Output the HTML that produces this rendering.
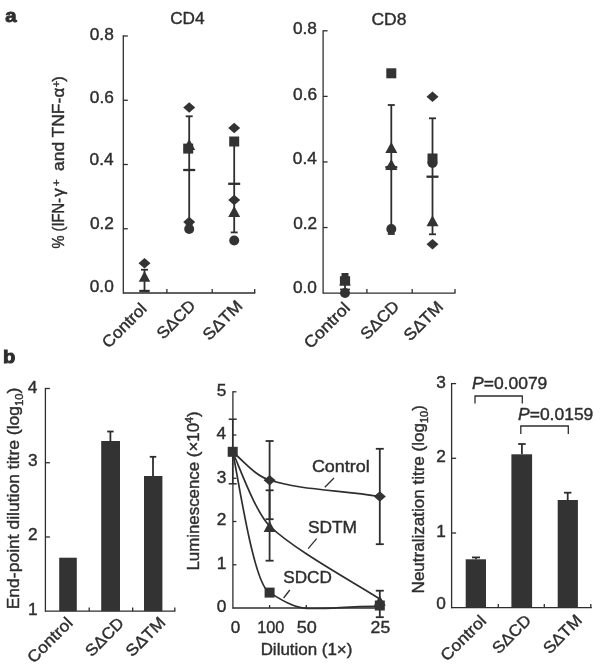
<!DOCTYPE html>
<html><head><meta charset="utf-8"><title>Figure</title>
<style>
html,body{margin:0;padding:0;background:#fff;}
svg{display:block;}
text{font-family:"Liberation Sans",sans-serif;fill:#2e2e2e;stroke:#2e2e2e;stroke-width:0.4px;}
.pl{stroke-width:0.9px;}
</style></head><body>
<svg width="600" height="665" viewBox="0 0 600 665">
<rect width="600" height="665" fill="#ffffff"/>
<text transform="translate(5.19 22.30) scale(1.1321 1)" font-size="18" font-weight="bold" class="pl">a</text>
<text transform="translate(3.09 363.10) scale(1.1221 1)" font-size="18" font-weight="bold" class="pl">b</text>
<line x1="123.30" y1="35.35" x2="123.30" y2="293.65" stroke="#2e2e2e" stroke-width="1.3" stroke-linecap="butt"/>
<line x1="123.30" y1="293.00" x2="255.30" y2="293.00" stroke="#2e2e2e" stroke-width="1.3" stroke-linecap="butt"/>
<line x1="123.30" y1="228.75" x2="127.80" y2="228.75" stroke="#2e2e2e" stroke-width="1.3" stroke-linecap="butt"/>
<line x1="123.30" y1="164.50" x2="127.80" y2="164.50" stroke="#2e2e2e" stroke-width="1.3" stroke-linecap="butt"/>
<line x1="123.30" y1="100.25" x2="127.80" y2="100.25" stroke="#2e2e2e" stroke-width="1.3" stroke-linecap="butt"/>
<line x1="123.30" y1="36.00" x2="127.80" y2="36.00" stroke="#2e2e2e" stroke-width="1.3" stroke-linecap="butt"/>
<text transform="translate(89.77 291.60) scale(1.0600 1)" font-size="16.3">0.0</text>
<text transform="translate(89.95 228.50) scale(1.0600 1)" font-size="16.3">0.2</text>
<text transform="translate(89.60 165.30) scale(1.0600 1)" font-size="16.3">0.4</text>
<text transform="translate(89.86 102.70) scale(1.0600 1)" font-size="16.3">0.6</text>
<text transform="translate(89.77 40.00) scale(1.0600 1)" font-size="16.3">0.8</text>
<line x1="166.90" y1="293.00" x2="166.90" y2="289.00" stroke="#2e2e2e" stroke-width="1.3" stroke-linecap="butt"/>
<line x1="212.20" y1="293.00" x2="212.20" y2="289.00" stroke="#2e2e2e" stroke-width="1.3" stroke-linecap="butt"/>
<line x1="254.70" y1="293.00" x2="254.70" y2="289.00" stroke="#2e2e2e" stroke-width="1.3" stroke-linecap="butt"/>
<text transform="translate(170.14 24.30) scale(1.0544 1)" font-size="16.3">CD4</text>
<text transform="translate(63.6 248.2) rotate(-90) scale(1.04 1)" font-size="16.3"><tspan x="-0.38" textLength="48.65" lengthAdjust="spacingAndGlyphs">% (IFN-</tspan><tspan x="49.42">γ</tspan><tspan x="59.52" dy="-3.6" font-size="11.5">+</tspan><tspan x="74.23" dy="3.6" textLength="70.48" lengthAdjust="spacingAndGlyphs">and TNF-</tspan><tspan x="144.90">α</tspan><tspan x="154.62" dy="-3.6" font-size="11.5">+</tspan><tspan x="160.00" dy="3.6">)</tspan></text>
<line x1="144.50" y1="269.70" x2="144.50" y2="291.00" stroke="#2e2e2e" stroke-width="1.8" stroke-linecap="butt"/>
<line x1="141.00" y1="269.70" x2="148.00" y2="269.70" stroke="#2e2e2e" stroke-width="1.8" stroke-linecap="butt"/>
<line x1="141.00" y1="291.00" x2="148.00" y2="291.00" stroke="#2e2e2e" stroke-width="1.8" stroke-linecap="butt"/>
<line x1="139.30" y1="291.00" x2="149.70" y2="291.00" stroke="#2e2e2e" stroke-width="2.4" stroke-linecap="butt"/>
<polygon points="138.50,263.30 144.50,258.05 150.50,263.30 144.50,268.55" fill="#333333"/>
<polygon points="138.75,281.70 144.50,271.10 150.25,281.70" fill="#333333"/>
<line x1="189.20" y1="116.30" x2="189.20" y2="224.00" stroke="#2e2e2e" stroke-width="1.8" stroke-linecap="butt"/>
<line x1="185.70" y1="116.30" x2="192.70" y2="116.30" stroke="#2e2e2e" stroke-width="1.8" stroke-linecap="butt"/>
<line x1="185.70" y1="224.00" x2="192.70" y2="224.00" stroke="#2e2e2e" stroke-width="1.8" stroke-linecap="butt"/>
<line x1="183.20" y1="170.00" x2="195.20" y2="170.00" stroke="#2e2e2e" stroke-width="2.3" stroke-linecap="butt"/>
<polygon points="183.20,107.60 189.20,102.35 195.20,107.60 189.20,112.85" fill="#333333"/>
<polygon points="183.20,150.00 189.20,139.00 195.20,150.00" fill="#333333"/>
<rect x="183.20" y="143.60" width="10.00" height="10.00" fill="#333333"/>
<polygon points="183.20,222.00 189.20,216.75 195.20,222.00 189.20,227.25" fill="#333333"/>
<circle cx="189.20" cy="229.00" r="5" fill="#333333"/>
<line x1="234.20" y1="138.00" x2="234.20" y2="232.40" stroke="#2e2e2e" stroke-width="1.8" stroke-linecap="butt"/>
<line x1="230.70" y1="138.00" x2="237.70" y2="138.00" stroke="#2e2e2e" stroke-width="1.8" stroke-linecap="butt"/>
<line x1="230.70" y1="232.40" x2="237.70" y2="232.40" stroke="#2e2e2e" stroke-width="1.8" stroke-linecap="butt"/>
<line x1="228.20" y1="183.80" x2="240.20" y2="183.80" stroke="#2e2e2e" stroke-width="2.3" stroke-linecap="butt"/>
<polygon points="228.20,128.00 234.20,122.75 240.20,128.00 234.20,133.25" fill="#333333"/>
<rect x="229.20" y="136.50" width="10.00" height="10.00" fill="#333333"/>
<polygon points="228.20,200.00 234.20,194.75 240.20,200.00 234.20,205.25" fill="#333333"/>
<polygon points="228.20,216.90 234.20,205.90 240.20,216.90" fill="#333333"/>
<circle cx="234.20" cy="240.50" r="5" fill="#333333"/>
<text transform="translate(147.80 309.70) rotate(-45) scale(1.0550 1)" font-size="16.3" text-anchor="end">Control</text>
<text transform="translate(196.50 306.60) rotate(-45) scale(1.0400 1)" font-size="16.3" text-anchor="end">SΔCD</text>
<text transform="translate(243.50 307.00) rotate(-45) scale(1.0700 1)" font-size="16.3" text-anchor="end">SΔTM</text>
<line x1="323.10" y1="30.15" x2="323.10" y2="293.75" stroke="#2e2e2e" stroke-width="1.3" stroke-linecap="butt"/>
<line x1="323.10" y1="293.10" x2="455.50" y2="293.10" stroke="#2e2e2e" stroke-width="1.3" stroke-linecap="butt"/>
<line x1="323.10" y1="227.53" x2="327.60" y2="227.53" stroke="#2e2e2e" stroke-width="1.3" stroke-linecap="butt"/>
<line x1="323.10" y1="161.95" x2="327.60" y2="161.95" stroke="#2e2e2e" stroke-width="1.3" stroke-linecap="butt"/>
<line x1="323.10" y1="96.38" x2="327.60" y2="96.38" stroke="#2e2e2e" stroke-width="1.3" stroke-linecap="butt"/>
<line x1="323.10" y1="30.80" x2="327.60" y2="30.80" stroke="#2e2e2e" stroke-width="1.3" stroke-linecap="butt"/>
<text transform="translate(292.97 293.10) scale(1.0600 1)" font-size="16.3">0.0</text>
<text transform="translate(293.15 229.30) scale(1.0600 1)" font-size="16.3">0.2</text>
<text transform="translate(292.80 164.30) scale(1.0600 1)" font-size="16.3">0.4</text>
<text transform="translate(293.06 99.50) scale(1.0600 1)" font-size="16.3">0.6</text>
<text transform="translate(292.97 34.10) scale(1.0600 1)" font-size="16.3">0.8</text>
<line x1="366.90" y1="293.10" x2="366.90" y2="289.10" stroke="#2e2e2e" stroke-width="1.3" stroke-linecap="butt"/>
<line x1="412.20" y1="293.10" x2="412.20" y2="289.10" stroke="#2e2e2e" stroke-width="1.3" stroke-linecap="butt"/>
<line x1="455.00" y1="293.10" x2="455.00" y2="289.10" stroke="#2e2e2e" stroke-width="1.3" stroke-linecap="butt"/>
<text transform="translate(371.43 24.50) scale(1.0728 1)" font-size="16.3">CD8</text>
<line x1="345.00" y1="279.00" x2="345.00" y2="291.00" stroke="#2e2e2e" stroke-width="1.8" stroke-linecap="butt"/>
<line x1="341.50" y1="279.00" x2="348.50" y2="279.00" stroke="#2e2e2e" stroke-width="1.8" stroke-linecap="butt"/>
<line x1="341.50" y1="291.00" x2="348.50" y2="291.00" stroke="#2e2e2e" stroke-width="1.8" stroke-linecap="butt"/>
<rect x="341.50" y="273.00" width="7.00" height="4.00" fill="#333333"/>
<rect x="339.90" y="276.20" width="10.20" height="9.30" fill="#333333"/>
<polygon points="339.10,285.60 345.00,277.00 350.90,285.60" fill="#333333"/>
<line x1="340.00" y1="289.40" x2="350.00" y2="289.40" stroke="#2e2e2e" stroke-width="1.6" stroke-linecap="butt"/>
<circle cx="345.00" cy="293.00" r="5" fill="#333333"/>
<line x1="391.30" y1="105.00" x2="391.30" y2="234.00" stroke="#2e2e2e" stroke-width="1.8" stroke-linecap="butt"/>
<line x1="387.80" y1="105.00" x2="394.80" y2="105.00" stroke="#2e2e2e" stroke-width="1.8" stroke-linecap="butt"/>
<line x1="387.80" y1="234.00" x2="394.80" y2="234.00" stroke="#2e2e2e" stroke-width="1.8" stroke-linecap="butt"/>
<line x1="385.30" y1="167.30" x2="397.30" y2="167.30" stroke="#2e2e2e" stroke-width="2.3" stroke-linecap="butt"/>
<rect x="386.30" y="68.30" width="10.00" height="10.00" fill="#333333"/>
<polygon points="385.30,153.00 391.30,142.00 397.30,153.00" fill="#333333"/>
<polygon points="385.30,170.00 391.30,159.00 397.30,170.00" fill="#333333"/>
<polygon points="385.80,167.00 391.30,163.00 396.80,167.00 391.30,171.00" fill="#333333"/>
<circle cx="391.30" cy="229.00" r="5" fill="#333333"/>
<line x1="432.50" y1="118.30" x2="432.50" y2="234.30" stroke="#2e2e2e" stroke-width="1.8" stroke-linecap="butt"/>
<line x1="429.00" y1="118.30" x2="436.00" y2="118.30" stroke="#2e2e2e" stroke-width="1.8" stroke-linecap="butt"/>
<line x1="429.00" y1="234.30" x2="436.00" y2="234.30" stroke="#2e2e2e" stroke-width="1.8" stroke-linecap="butt"/>
<line x1="426.50" y1="176.70" x2="438.50" y2="176.70" stroke="#2e2e2e" stroke-width="2.3" stroke-linecap="butt"/>
<polygon points="426.50,96.70 432.50,91.45 438.50,96.70 432.50,101.95" fill="#333333"/>
<rect x="427.50" y="153.50" width="10.00" height="10.00" fill="#333333"/>
<circle cx="432.50" cy="163.00" r="5" fill="#333333"/>
<polygon points="426.50,226.20 432.50,215.20 438.50,226.20" fill="#333333"/>
<polygon points="426.50,244.30 432.50,239.05 438.50,244.30 432.50,249.55" fill="#333333"/>
<text transform="translate(351.00 309.00) rotate(-45) scale(1.0900 1)" font-size="16.3" text-anchor="end">Control</text>
<text transform="translate(400.20 307.30) rotate(-45) scale(1.0400 1)" font-size="16.3" text-anchor="end">SΔCD</text>
<text transform="translate(444.20 307.80) rotate(-45) scale(1.0600 1)" font-size="16.3" text-anchor="end">SΔTM</text>
<line x1="45.40" y1="387.85" x2="45.40" y2="611.85" stroke="#2e2e2e" stroke-width="1.3" stroke-linecap="butt"/>
<line x1="45.40" y1="611.20" x2="175.30" y2="611.20" stroke="#2e2e2e" stroke-width="1.3" stroke-linecap="butt"/>
<line x1="45.40" y1="536.97" x2="49.90" y2="536.97" stroke="#2e2e2e" stroke-width="1.3" stroke-linecap="butt"/>
<line x1="45.40" y1="462.73" x2="49.90" y2="462.73" stroke="#2e2e2e" stroke-width="1.3" stroke-linecap="butt"/>
<line x1="45.40" y1="388.50" x2="49.90" y2="388.50" stroke="#2e2e2e" stroke-width="1.3" stroke-linecap="butt"/>
<text transform="translate(28.07 615.10) scale(1.0600 1)" font-size="16.3">1</text>
<text transform="translate(28.07 539.90) scale(1.0600 1)" font-size="16.3">2</text>
<text transform="translate(27.99 466.20) scale(1.0600 1)" font-size="16.3">3</text>
<text transform="translate(27.73 392.50) scale(1.0600 1)" font-size="16.3">4</text>
<line x1="89.20" y1="611.20" x2="89.20" y2="607.40" stroke="#2e2e2e" stroke-width="1.3" stroke-linecap="butt"/>
<line x1="132.70" y1="611.20" x2="132.70" y2="607.40" stroke="#2e2e2e" stroke-width="1.3" stroke-linecap="butt"/>
<line x1="174.80" y1="611.20" x2="174.80" y2="607.40" stroke="#2e2e2e" stroke-width="1.3" stroke-linecap="butt"/>
<rect x="59.20" y="557.70" width="17.60" height="53.50" fill="#333333"/>
<rect x="101.20" y="441.00" width="18.80" height="170.20" fill="#333333"/>
<rect x="144.00" y="476.00" width="18.40" height="135.20" fill="#333333"/>
<line x1="110.40" y1="441.00" x2="110.40" y2="431.50" stroke="#2e2e2e" stroke-width="1.8" stroke-linecap="butt"/>
<line x1="107.15" y1="431.50" x2="113.65" y2="431.50" stroke="#2e2e2e" stroke-width="1.8" stroke-linecap="butt"/>
<line x1="153.00" y1="476.00" x2="153.00" y2="456.80" stroke="#2e2e2e" stroke-width="1.8" stroke-linecap="butt"/>
<line x1="149.75" y1="456.80" x2="156.25" y2="456.80" stroke="#2e2e2e" stroke-width="1.8" stroke-linecap="butt"/>
<text transform="translate(19.0 609.3) rotate(-90) scale(1.0747 1)" font-size="16.3">End-point dilution titre (log<tspan font-size="10.5" dy="3.5">10</tspan><tspan dy="-3.5">)</tspan></text>
<text transform="translate(73.70 624.00) rotate(-45) scale(1.0750 1)" font-size="16.3" text-anchor="end">Control</text>
<text transform="translate(125.00 624.20) rotate(-45) scale(1.0400 1)" font-size="16.3" text-anchor="end">SΔCD</text>
<text transform="translate(166.30 623.50) rotate(-45) scale(1.0600 1)" font-size="16.3" text-anchor="end">SΔTM</text>
<line x1="232.90" y1="391.15" x2="232.90" y2="608.65" stroke="#2e2e2e" stroke-width="1.3" stroke-linecap="butt"/>
<line x1="232.90" y1="608.00" x2="384.00" y2="608.00" stroke="#2e2e2e" stroke-width="1.3" stroke-linecap="butt"/>
<line x1="232.90" y1="564.76" x2="236.40" y2="564.76" stroke="#2e2e2e" stroke-width="1.3" stroke-linecap="butt"/>
<line x1="232.90" y1="521.52" x2="236.40" y2="521.52" stroke="#2e2e2e" stroke-width="1.3" stroke-linecap="butt"/>
<line x1="232.90" y1="478.28" x2="236.40" y2="478.28" stroke="#2e2e2e" stroke-width="1.3" stroke-linecap="butt"/>
<line x1="232.90" y1="435.04" x2="236.40" y2="435.04" stroke="#2e2e2e" stroke-width="1.3" stroke-linecap="butt"/>
<line x1="232.90" y1="391.80" x2="236.40" y2="391.80" stroke="#2e2e2e" stroke-width="1.3" stroke-linecap="butt"/>
<text transform="translate(216.70 611.80) scale(1.0600 1)" font-size="16.3">0</text>
<text transform="translate(216.87 569.40) scale(1.0600 1)" font-size="16.3">1</text>
<text transform="translate(216.87 525.40) scale(1.0600 1)" font-size="16.3">2</text>
<text transform="translate(216.79 482.50) scale(1.0600 1)" font-size="16.3">3</text>
<text transform="translate(216.53 438.50) scale(1.0600 1)" font-size="16.3">4</text>
<text transform="translate(216.70 395.50) scale(1.0600 1)" font-size="16.3">5</text>
<line x1="269.60" y1="608.00" x2="269.60" y2="605.00" stroke="#2e2e2e" stroke-width="1.3" stroke-linecap="butt"/>
<line x1="306.30" y1="608.00" x2="306.30" y2="605.00" stroke="#2e2e2e" stroke-width="1.3" stroke-linecap="butt"/>
<path d="M232.7,452 C244.7,462 255.60000000000002,476 269.6,480 C299.6,490 339.8,490 379.8,496.5" fill="none" stroke="#2e2e2e" stroke-width="1.7"/>
<path d="M232.7,452 C240.7,470 255.60000000000002,512 269.6,526 C294.6,550 349.8,580 379.8,599" fill="none" stroke="#2e2e2e" stroke-width="1.7"/>
<path d="M232.7,452 C238.7,480 253.60000000000002,585 269.6,592.6 C281.6,600 294.3,608 306.3,608.3 C326.3,609.5 349.8,606 379.8,606.5" fill="none" stroke="#2e2e2e" stroke-width="1.7"/>
<line x1="232.70" y1="419.20" x2="232.70" y2="483.80" stroke="#2e2e2e" stroke-width="1.5" stroke-linecap="butt"/>
<line x1="228.70" y1="419.20" x2="236.70" y2="419.20" stroke="#2e2e2e" stroke-width="1.5" stroke-linecap="butt"/>
<line x1="228.70" y1="483.80" x2="236.70" y2="483.80" stroke="#2e2e2e" stroke-width="1.5" stroke-linecap="butt"/>
<line x1="269.60" y1="441.00" x2="269.60" y2="519.20" stroke="#2e2e2e" stroke-width="1.8" stroke-linecap="butt"/>
<line x1="265.60" y1="441.00" x2="273.60" y2="441.00" stroke="#2e2e2e" stroke-width="1.8" stroke-linecap="butt"/>
<line x1="265.60" y1="519.20" x2="273.60" y2="519.20" stroke="#2e2e2e" stroke-width="1.8" stroke-linecap="butt"/>
<line x1="269.60" y1="490.30" x2="269.60" y2="560.70" stroke="#2e2e2e" stroke-width="1.8" stroke-linecap="butt"/>
<line x1="265.60" y1="490.30" x2="273.60" y2="490.30" stroke="#2e2e2e" stroke-width="1.8" stroke-linecap="butt"/>
<line x1="265.60" y1="560.70" x2="273.60" y2="560.70" stroke="#2e2e2e" stroke-width="1.8" stroke-linecap="butt"/>
<line x1="379.80" y1="448.80" x2="379.80" y2="544.20" stroke="#2e2e2e" stroke-width="1.8" stroke-linecap="butt"/>
<line x1="375.80" y1="448.80" x2="383.80" y2="448.80" stroke="#2e2e2e" stroke-width="1.8" stroke-linecap="butt"/>
<line x1="375.80" y1="544.20" x2="383.80" y2="544.20" stroke="#2e2e2e" stroke-width="1.8" stroke-linecap="butt"/>
<line x1="379.80" y1="590.70" x2="379.80" y2="617.20" stroke="#2e2e2e" stroke-width="1.8" stroke-linecap="butt"/>
<line x1="375.80" y1="590.70" x2="383.80" y2="590.70" stroke="#2e2e2e" stroke-width="1.8" stroke-linecap="butt"/>
<line x1="375.80" y1="617.20" x2="383.80" y2="617.20" stroke="#2e2e2e" stroke-width="1.8" stroke-linecap="butt"/>
<rect x="227.70" y="446.80" width="10.00" height="10.00" fill="#333333"/>
<polygon points="263.60,480.20 269.60,474.95 275.60,480.20 269.60,485.45" fill="#333333"/>
<polygon points="263.60,532.00 269.60,521.00 275.60,532.00" fill="#333333"/>
<rect x="264.60" y="587.60" width="10.00" height="10.00" fill="#333333"/>
<polygon points="373.80,496.50 379.80,491.25 385.80,496.50 379.80,501.75" fill="#333333"/>
<polygon points="373.80,605.70 379.80,595.70 385.80,605.70" fill="#333333"/>
<rect x="374.80" y="600.50" width="10.00" height="10.00" fill="#333333"/>
<text transform="translate(311.90 472.00) scale(1.1025 1)" font-size="16.3">Control</text>
<text transform="translate(307.92 533.20) scale(1.0637 1)" font-size="16.3">SDTM</text>
<text transform="translate(283.23 582.70) scale(1.0523 1)" font-size="16.3">SDCD</text>
<line x1="334.00" y1="478.00" x2="324.80" y2="487.20" stroke="#2e2e2e" stroke-width="1.3" stroke-linecap="butt"/>
<line x1="316.60" y1="538.70" x2="308.20" y2="548.60" stroke="#2e2e2e" stroke-width="1.3" stroke-linecap="butt"/>
<line x1="289.80" y1="590.00" x2="283.60" y2="598.00" stroke="#2e2e2e" stroke-width="1.3" stroke-linecap="butt"/>
<text transform="translate(230.72 632.80) scale(1.0462 1)" font-size="16.3">0</text>
<text transform="translate(257.18 632.80) scale(0.9974 1)" font-size="16.3">100</text>
<text transform="translate(296.68 632.80) scale(1.1079 1)" font-size="16.3">50</text>
<text transform="translate(370.62 632.80) scale(1.0826 1)" font-size="16.3">25</text>
<text transform="translate(260.64 654.60) scale(1.0397 1)" font-size="16.3">Dilution (1×)</text>
<text transform="translate(199.4 570.6) rotate(-90) scale(1.0352 1)" font-size="16.3">Luminescence (×10<tspan font-size="10.5" dy="-6">4</tspan><tspan dy="6">)</tspan></text>
<line x1="451.60" y1="382.95" x2="451.60" y2="608.35" stroke="#2e2e2e" stroke-width="1.3" stroke-linecap="butt"/>
<line x1="451.60" y1="607.70" x2="591.80" y2="607.70" stroke="#2e2e2e" stroke-width="1.3" stroke-linecap="butt"/>
<line x1="451.60" y1="533.00" x2="456.10" y2="533.00" stroke="#2e2e2e" stroke-width="1.3" stroke-linecap="butt"/>
<line x1="451.60" y1="458.30" x2="456.10" y2="458.30" stroke="#2e2e2e" stroke-width="1.3" stroke-linecap="butt"/>
<line x1="451.60" y1="383.60" x2="456.10" y2="383.60" stroke="#2e2e2e" stroke-width="1.3" stroke-linecap="butt"/>
<text transform="translate(436.20 609.40) scale(1.0600 1)" font-size="16.3">0</text>
<text transform="translate(436.37 536.60) scale(1.0600 1)" font-size="16.3">1</text>
<text transform="translate(436.37 461.90) scale(1.0600 1)" font-size="16.3">2</text>
<text transform="translate(436.29 387.60) scale(1.0600 1)" font-size="16.3">3</text>
<line x1="498.30" y1="607.70" x2="498.30" y2="603.90" stroke="#2e2e2e" stroke-width="1.3" stroke-linecap="butt"/>
<line x1="544.30" y1="607.70" x2="544.30" y2="603.90" stroke="#2e2e2e" stroke-width="1.3" stroke-linecap="butt"/>
<line x1="590.80" y1="607.70" x2="590.80" y2="603.90" stroke="#2e2e2e" stroke-width="1.3" stroke-linecap="butt"/>
<rect x="465.70" y="559.30" width="20.30" height="48.40" fill="#333333"/>
<rect x="511.40" y="454.30" width="20.70" height="153.40" fill="#333333"/>
<rect x="557.70" y="500.00" width="20.20" height="107.70" fill="#333333"/>
<line x1="476.00" y1="559.30" x2="476.00" y2="557.40" stroke="#2e2e2e" stroke-width="1.8" stroke-linecap="butt"/>
<line x1="472.00" y1="557.40" x2="480.00" y2="557.40" stroke="#2e2e2e" stroke-width="1.8" stroke-linecap="butt"/>
<line x1="521.90" y1="454.30" x2="521.90" y2="444.00" stroke="#2e2e2e" stroke-width="1.8" stroke-linecap="butt"/>
<line x1="518.15" y1="444.00" x2="525.65" y2="444.00" stroke="#2e2e2e" stroke-width="1.8" stroke-linecap="butt"/>
<line x1="567.70" y1="500.00" x2="567.70" y2="492.70" stroke="#2e2e2e" stroke-width="1.8" stroke-linecap="butt"/>
<line x1="563.95" y1="492.70" x2="571.45" y2="492.70" stroke="#2e2e2e" stroke-width="1.8" stroke-linecap="butt"/>
<text transform="translate(472.00 389.3) scale(1.0731 1)" font-size="16.3"><tspan font-style="italic">P</tspan>=0.0079</text>
<text transform="translate(518.00 420) scale(1.0731 1)" font-size="16.3"><tspan font-style="italic">P</tspan>=0.0159</text>
<path d="M475,403.5 V396 H522.3 V403.5" fill="none" stroke="#2e2e2e" stroke-width="1.3"/>
<path d="M520.8,434 V426 H568.3 V434" fill="none" stroke="#2e2e2e" stroke-width="1.3"/>
<text transform="translate(424.2 593.4) rotate(-90) scale(1.0456 1)" font-size="16.3">Neutralization titre (log<tspan font-size="10.5" dy="3.5">10</tspan><tspan dy="-3.5">)</tspan></text>
<text transform="translate(487.20 621.90) rotate(-45) scale(1.0800 1)" font-size="16.3" text-anchor="end">Control</text>
<text transform="translate(532.10 621.40) rotate(-45) scale(1.0400 1)" font-size="16.3" text-anchor="end">SΔCD</text>
<text transform="translate(582.90 621.40) rotate(-45) scale(1.0400 1)" font-size="16.3" text-anchor="end">SΔTM</text>
</svg>
</body></html>
